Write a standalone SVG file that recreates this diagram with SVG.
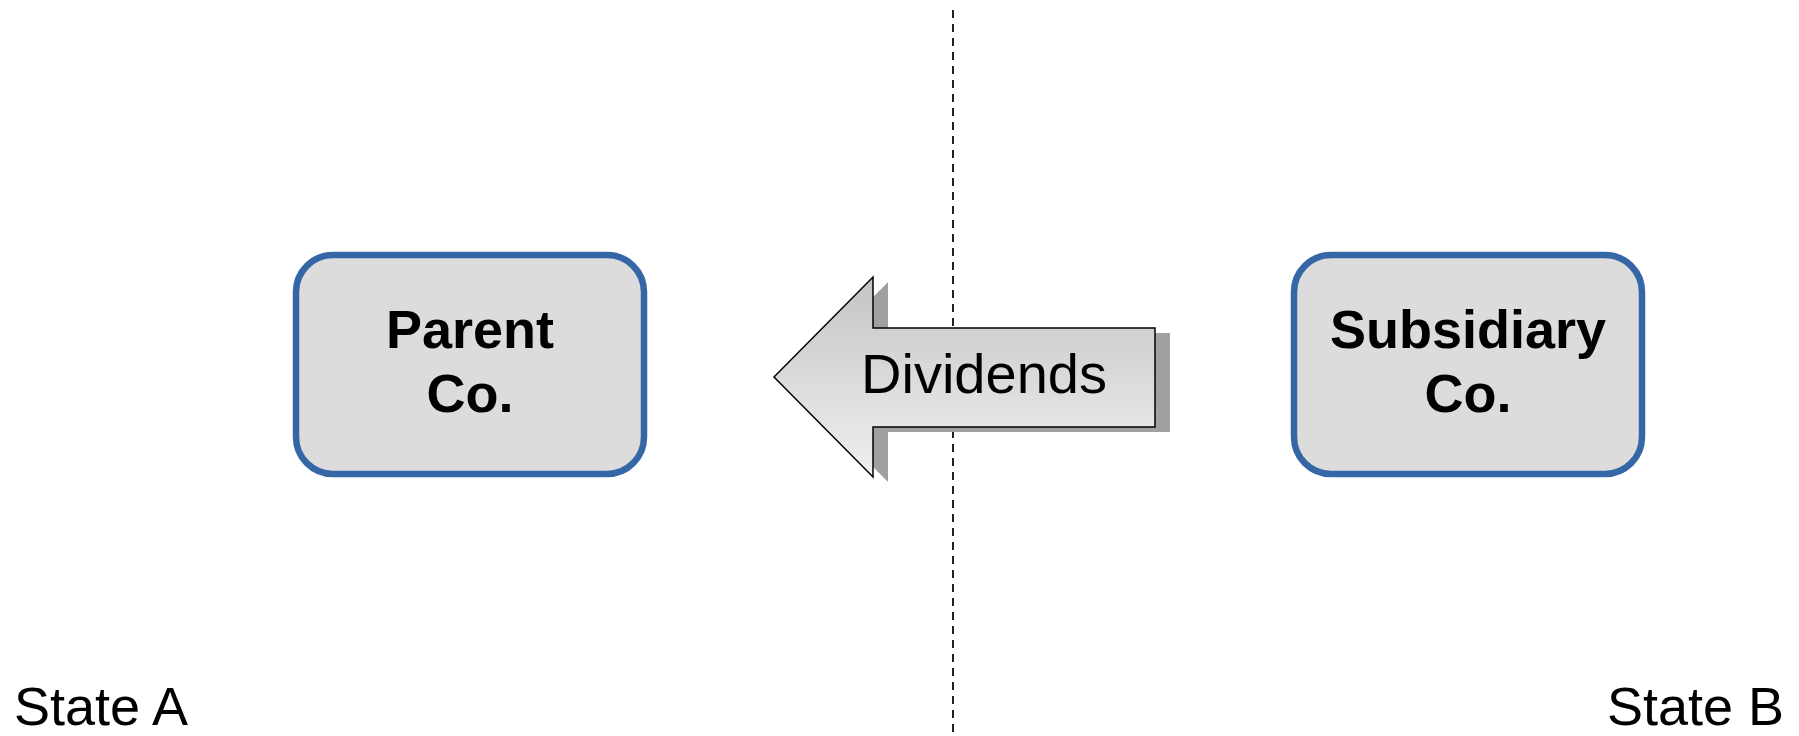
<svg xmlns="http://www.w3.org/2000/svg" width="1799" height="736" viewBox="0 0 1799 736">
  <style>
    .box { fill: #dcdcdc; stroke: #3567a7; stroke-width: 6.5; }
    .lbl { font-family: "Liberation Sans", Arial, sans-serif; font-weight: bold; font-size: 54px; fill: #000; text-anchor: middle; }
    .state { font-family: "Liberation Sans", Arial, sans-serif; font-size: 54px; fill: #000; }
    .arrowlbl { font-family: "Liberation Sans", Arial, sans-serif; font-size: 56px; fill: #000; text-anchor: middle; }
  </style>
  <defs>
    <linearGradient id="arrowGrad" x1="0" y1="0" x2="0" y2="1">
      <stop offset="0" stop-color="#c4c4c4"/>
      <stop offset="1" stop-color="#f0f0f0"/>
    </linearGradient>
  </defs>
  <rect width="1799" height="736" fill="#ffffff"/>

  <g id="divider">
    <line x1="953" y1="10" x2="953" y2="736" stroke="#222" stroke-width="2" stroke-dasharray="8,6"/>
  </g>

  <g id="connectors">
    <g id="dividends-arrow">
      <polygon points="789,382 888,282 888,333 1170,333 1170,432 888,432 888,482" fill="#a0a0a0"/>
      <polygon points="774,377 873,277 873,328 1155,328 1155,427 873,427 873,477" fill="url(#arrowGrad)" stroke="#000" stroke-width="1.5" stroke-linejoin="miter"/>
      <text class="arrowlbl" x="984" y="393">Dividends</text>
    </g>
  </g>

  <g id="parent">
    <rect class="box" x="296" y="255" width="348" height="219" rx="37" ry="37"/>
    <text class="lbl" x="470" y="348">Parent</text>
    <text class="lbl" x="470" y="412">Co.</text>
  </g>

  <g id="subsidiary">
    <rect class="box" x="1294" y="255" width="348" height="219" rx="37" ry="37"/>
    <text class="lbl" x="1468" y="348">Subsidiary</text>
    <text class="lbl" x="1468" y="412">Co.</text>
  </g>

  <g id="state-a">
    <text class="state" x="14" y="725">State A</text>
  </g>
  <g id="state-b">
    <text class="state" x="1784" y="725" text-anchor="end">State B</text>
  </g>
</svg>
